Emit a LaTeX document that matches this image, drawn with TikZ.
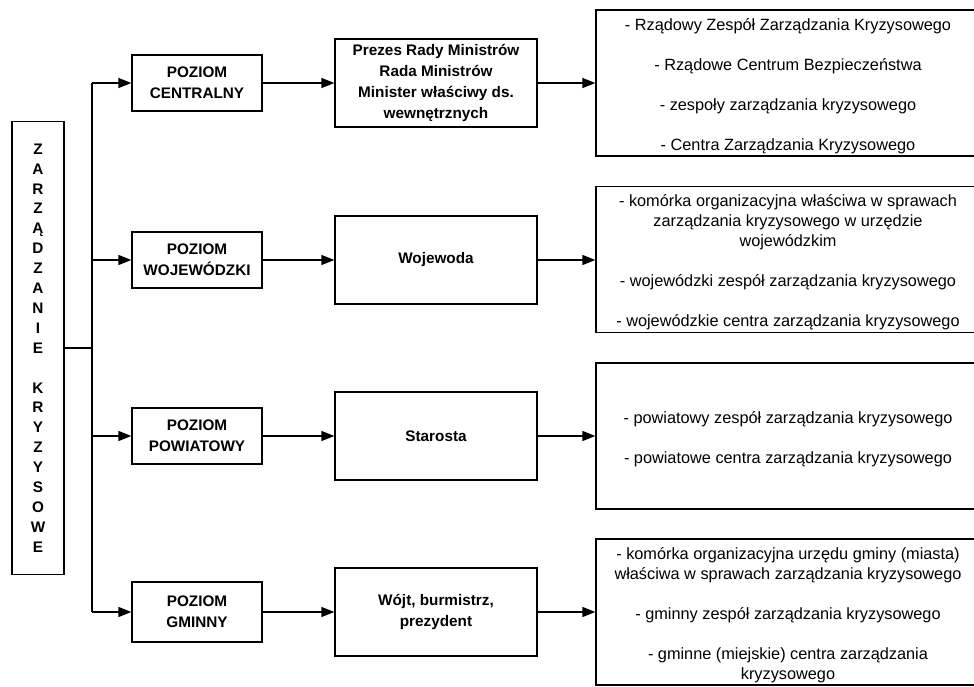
\documentclass[tikz,border=0pt]{standalone}
\usepackage{fontspec}
\setmainfont{Liberation Sans}
\usetikzlibrary{arrows.meta}
\begin{document}
\begin{tikzpicture}[x=1pt,y=-1pt,
 box/.style={draw,line width=1.3pt,inner sep=0pt,align=center},
 lvl/.style={box,minimum width=130pt,minimum height=56pt,font=\bfseries\fontsize{15.3}{21}\selectfont},
 mid/.style={box,minimum width=202pt,minimum height=88pt,font=\bfseries\fontsize{15.3}{21}\selectfont},
 res/.style={box,minimum width=384pt,minimum height=146pt},
 restext/.style={inner sep=0pt,align=center,font=\fontsize{16.3}{20}\selectfont},
 arr/.style={line width=1.3pt,-{Triangle[length=13pt,width=10pt]}},
 ln/.style={line width=1.3pt}]
\useasboundingbox (0,0) rectangle (974,686);
\fill[white] (0,0) rectangle (974,686);
\clip (0,0) rectangle (974,686);

\node[box,minimum width=52pt,minimum height=453pt,font=\bfseries\fontsize{15.3}{19.9}\selectfont] (L) at (38,348)
 {Z\\A\\R\\Z\\Ą\\D\\Z\\A\\N\\I\\E\\[19.9pt]K\\R\\Y\\Z\\Y\\S\\O\\W\\E};

\node[lvl] (l1) at (197,83) {POZIOM\\CENTRALNY};
\node[lvl] (l2) at (197,260) {POZIOM\\WOJEWÓDZKI};
\node[lvl] (l3) at (197,436) {POZIOM\\POWIATOWY};
\node[lvl,minimum height=60pt] (l4) at (197,612) {POZIOM\\GMINNY};

\node[mid] (m1) at (436,83) {Prezes Rady Ministrów\\Rada Ministrów\\Minister właściwy ds.\\wewnętrznych};
\node[mid] (m2) at (436,260) {\raisebox{-2pt}{Wojewoda}};
\node[mid] (m3) at (436,436) {Starosta};
\node[mid] (m4) at (436,612) {Wójt, burmistrz,\\prezydent};

\node[res] (r1) at (788,83) {};
\node[res] (r2) at (788,259.5) {};
\node[res] (r3) at (788,436) {};
\node[res] (r4) at (788,612) {};

\node[restext] (t1) at ([yshift=-3pt]r1.center) {- Rządowy Zespół Zarządzania Kryzysowego\\[20pt]- Rządowe Centrum Bezpieczeństwa\\[20pt]- zespoły zarządzania kryzysowego\\[20pt]- Centra Zarządzania Kryzysowego};
\node[restext] (t2) at ([yshift=-2.5pt]r2.center) {- komórka organizacyjna właściwa w sprawach\\zarządzania kryzysowego w urzędzie\\wojewódzkim\\[20pt]- wojewódzki zespół zarządzania kryzysowego\\[20pt]- wojewódzkie centra zarządzania kryzysowego};
\node[restext] (t3) at ([yshift=-3pt]r3.center) {- powiatowy zespół zarządzania kryzysowego\\[20pt]- powiatowe centra zarządzania kryzysowego};
\node[restext] (t4) at ([yshift=-3pt]r4.center) {- komórka organizacyjna urzędu gminy (miasta)\\właściwa w sprawach zarządzania kryzysowego\\[20pt]- gminny zespół zarządzania kryzysowego\\[20pt]- gminne (miejskie) centra zarządzania\\kryzysowego};

\coordinate (sTop) at (92,83);
\coordinate (sBot) at (92,612);
\draw[ln] (sTop) -- (sBot);
\draw[ln] (L.east) -- (L.east -| sTop);

\foreach \i in {1,2,3,4}{
  \draw[arr] (l\i.west -| sTop) -- (l\i.west);
  \draw[arr] (l\i.east) -- (m\i.west);
  \draw[arr] (m\i.east) -- (m\i.east -| r\i.west);
}
\end{tikzpicture}
\end{document}
